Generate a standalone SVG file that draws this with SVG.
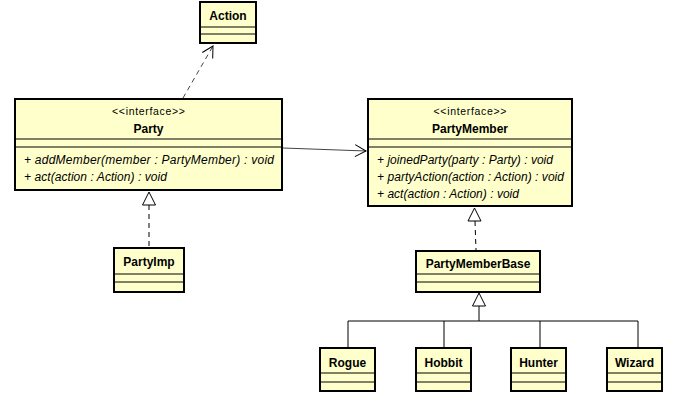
<svg xmlns="http://www.w3.org/2000/svg" width="674" height="408" viewBox="0 0 674 408">
<defs>
<style>
.box{fill:#FFFFCC;stroke:#000;stroke-width:2}
.sep{stroke:#000;stroke-width:1}
.name{font-family:"Liberation Sans",Arial,sans-serif;font-size:12px;font-weight:bold;text-anchor:middle;fill:#000}
.stereo{font-family:"Liberation Sans",Arial,sans-serif;font-size:10.5px;text-anchor:middle;fill:#000}
.mem{font-family:"Liberation Sans",Arial,sans-serif;font-size:12px;font-style:italic;fill:#000}
.conn{fill:none;stroke:#000;stroke-width:1}
.dash{stroke-dasharray:5,4}
.gray{stroke:#444}
</style>
<marker id="open" markerWidth="14" markerHeight="14" refX="12" refY="7" orient="auto" markerUnits="userSpaceOnUse">
<path d="M1,1 L12,7 L1,13" fill="none" stroke="#000" stroke-width="1"/>
</marker>
</defs>
<rect width="674" height="408" fill="#fff"/>
<g id="connectors">
<line class="conn dash gray" x1="183" y1="98" x2="213" y2="46" marker-end="url(#open)"/>
<line class="conn gray" x1="283" y1="148" x2="366" y2="151" marker-end="url(#open)"/>
<line class="conn dash" x1="149" y1="205" x2="149" y2="247"/>
<polygon points="149,192 142.5,205 155.5,205" fill="#fff" stroke="#000" stroke-width="1"/>
<line class="conn dash" x1="475" y1="221" x2="476" y2="250"/>
<polygon points="474.5,208 468,221 481,221" fill="#fff" stroke="#000" stroke-width="1"/>
<polygon points="479,293 472.5,306 485.5,306" fill="#fff" stroke="#000" stroke-width="1"/>
<path class="conn" d="M479,306 V321 M348,321 H638 M348,321 V347 M444,321 V347 M540,321 V347 M638,321 V347"/>
</g>
<g id="Action">
<rect class="box" x="200" y="2" width="56" height="41"/>
<line class="sep" x1="200" y1="27" x2="256" y2="27"/>
<line class="sep" x1="200" y1="34" x2="256" y2="34"/>
<text class="name" x="228" y="20">Action</text>
</g>
<g id="Party">
<rect class="box" x="15" y="99" width="267" height="91"/>
<line class="sep" x1="15" y1="139" x2="282" y2="139"/>
<line class="sep" x1="15" y1="147" x2="282" y2="147"/>
<text class="stereo" x="148.5" y="115" textLength="73" lengthAdjust="spacing">&lt;&lt;interface&gt;&gt;</text>
<text class="name" x="148.5" y="133">Party</text>
<text class="mem" x="24" y="164" textLength="250" lengthAdjust="spacing">+ addMember(member : PartyMember) : void</text>
<text class="mem" x="24" y="181" textLength="143" lengthAdjust="spacing">+ act(action : Action) : void</text>
</g>
<g id="PartyMember">
<rect class="box" x="368" y="99" width="204" height="107"/>
<line class="sep" x1="368" y1="139" x2="572" y2="139"/>
<line class="sep" x1="368" y1="147" x2="572" y2="147"/>
<text class="stereo" x="470" y="115" textLength="73" lengthAdjust="spacing">&lt;&lt;interface&gt;&gt;</text>
<text class="name" x="470" y="133">PartyMember</text>
<text class="mem" x="377" y="164" textLength="176" lengthAdjust="spacing">+ joinedParty(party : Party) : void</text>
<text class="mem" x="377" y="181" textLength="187" lengthAdjust="spacing">+ partyAction(action : Action) : void</text>
<text class="mem" x="377" y="198" textLength="142" lengthAdjust="spacing">+ act(action : Action) : void</text>
</g>
<g id="PartyImp">
<rect class="box" x="114" y="248" width="70" height="44"/>
<line class="sep" x1="114" y1="274" x2="184" y2="274"/>
<line class="sep" x1="114" y1="282" x2="184" y2="282"/>
<text class="name" x="149" y="266">PartyImp</text>
</g>
<g id="PartyMemberBase">
<rect class="box" x="416" y="251" width="124" height="41"/>
<line class="sep" x1="416" y1="274" x2="540" y2="274"/>
<line class="sep" x1="416" y1="282" x2="540" y2="282"/>
<text class="name" x="478" y="268">PartyMemberBase</text>
</g>
<g id="Rogue">
<rect class="box" x="320" y="348" width="55" height="43"/>
<line class="sep" x1="320" y1="373" x2="375" y2="373"/>
<line class="sep" x1="320" y1="382" x2="375" y2="382"/>
<text class="name" x="347.5" y="367">Rogue</text>
</g>
<g id="Hobbit">
<rect class="box" x="416" y="348" width="55" height="43"/>
<line class="sep" x1="416" y1="373" x2="471" y2="373"/>
<line class="sep" x1="416" y1="382" x2="471" y2="382"/>
<text class="name" x="443.5" y="367">Hobbit</text>
</g>
<g id="Hunter">
<rect class="box" x="511" y="348" width="55" height="43"/>
<line class="sep" x1="511" y1="373" x2="566" y2="373"/>
<line class="sep" x1="511" y1="382" x2="566" y2="382"/>
<text class="name" x="538.5" y="367">Hunter</text>
</g>
<g id="Wizard">
<rect class="box" x="607" y="348" width="55" height="43"/>
<line class="sep" x1="607" y1="373" x2="662" y2="373"/>
<line class="sep" x1="607" y1="382" x2="662" y2="382"/>
<text class="name" x="634.5" y="367">Wizard</text>
</g>
</svg>
